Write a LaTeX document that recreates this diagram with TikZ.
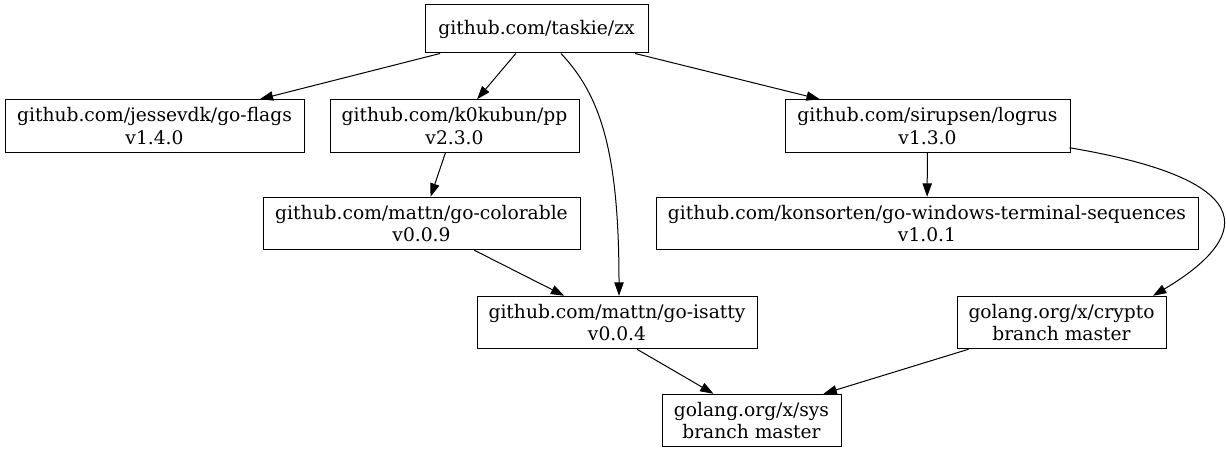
\documentclass[tikz,border=0pt]{standalone}
\usepackage{fontspec}
\setmainfont{DejaVu Serif}
\usetikzlibrary{arrows.meta,calc}
\begin{document}
\begin{tikzpicture}[x=0.75pt,y=-0.75pt,
  box/.style={draw,line width=0.75pt,inner sep=0pt,align=center,
    font=\fontsize{14}{16.8}\selectfont},
  wh/.style 2 args={minimum width=#1*0.75pt,minimum height=#2*0.75pt},
  edge/.style={line width=0.75pt,-{Triangle[length=10pt,width=7pt]}}]
\useasboundingbox (0,0) rectangle (1226,453);
\node[box,wh={223}{48}] (zx) at (536.5,29) {github.com/taskie/zx};
\node[box,wh={299}{52.5}] (flags) at (154.5,126) {github.com/jessevdk/go-flags\\v1.4.0};
\node[box,wh={249}{52.5}] (pp) at (454.5,126) {github.com/k0kubun/pp\\v2.3.0};
\node[box,wh={285}{52.5}] (logrus) at (927.5,126) {github.com/sirupsen/logrus\\v1.3.0};
\node[box,wh={317}{52.5}] (colorable) at (421.5,223.5) {github.com/mattn/go-colorable\\v0.0.9};
\node[box,wh={542}{52.5}] (konsorten) at (927,223.5) {github.com/konsorten/go-windows-terminal-sequences\\v1.0.1};
\node[box,wh={280}{52.5}] (isatty) at (617,322.5) {github.com/mattn/go-isatty\\v0.0.4};
\node[box,wh={209}{52.5}] (crypto) at (1061.5,322.5) {golang.org/x/crypto\\branch master};
\node[box,wh={179}{52.5}] (sys) at (751.5,420.5) {golang.org/x/sys\\branch master};
\draw[edge] (zx) -- (flags);
\draw[edge] (zx) -- (pp);
\draw[edge] (zx) -- (logrus);
\draw[edge] ($(zx.south)+(24.5,0)$) .. controls (600,95) and (619,150) .. ($(isatty.north)+(2,0)$);
\draw[edge] (logrus) -- (konsorten);
\draw[edge] ($(logrus.south east)+(-1,-5)$) .. controls (1290,185) and (1230,250) .. ($(crypto.north)+(91.5,0)$);
\draw[edge] (pp) -- (colorable);
\draw[edge] (colorable) -- (isatty);
\draw[edge] ($(isatty.south)+(20,0)$) -- ($(sys.north)+(-38,0)$);
\draw[edge] ($(crypto.south)+(-93,0)$) -- ($(sys.north)+(72,0)$);
\end{tikzpicture}
\end{document}
